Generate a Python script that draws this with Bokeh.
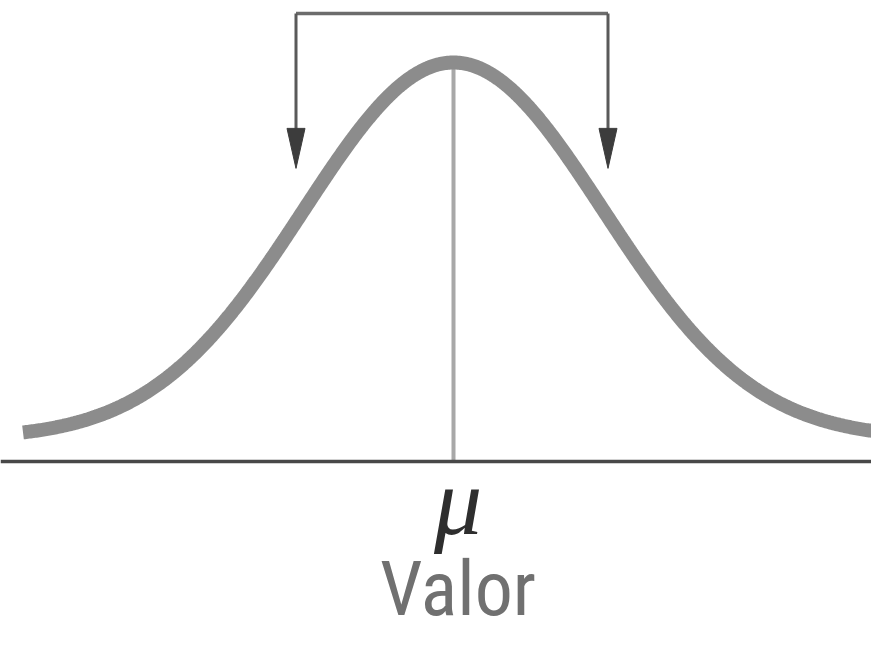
import numpy as np
from bokeh.plotting import figure
from bokeh.models import Range1d, Span, ColumnDataSource
from bokeh.core.properties import value
from bokeh.embed import file_html
from bokeh.resources import INLINE

# ---- data (theoretical normal curve, in units of sigma) ----
mu = 0.0
sigma = 1.0
curve_extent = [-2.87, 2.86]      # where the drawn curve starts / ends (in sigma)
curve_lift = 0.0244               # curve sits slightly above the baseline
bracket_x = [-1.05, 1.03]         # arrows point at roughly mu -/+ sigma
bracket_top = 0.4753
arrow_tip = 0.311
mu_label = ["μ"]
axis_label = ["Valor"]
label_x = [0.03]
mu_label_y = [-0.0424]
axis_label_y = [-0.1348]

# ---- scales (pixels per data unit) ----
W, H = 871, 637
px_x = 150.0
px_y = 942.5
x0_px = 453.0     # canvas x of mu
axis_px = 461.0   # canvas y (from top) of the baseline

x_range = Range1d(-x0_px / px_x, (W - x0_px) / px_x)
y_range = Range1d(-(H - axis_px) / px_y, axis_px / px_y)

p = figure(width=W, height=H, x_range=x_range, y_range=y_range,
           output_backend="svg", toolbar_location=None, min_border=0,
           background_fill_color="white", border_fill_color="white")
p.axis.visible = False
p.grid.visible = False
p.outline_line_color = None

# baseline
p.add_layout(Span(location=0, dimension="width", line_color="#484848", line_width=3.5))

# normal curve
z = np.linspace(curve_extent[0], curve_extent[1], 600)
pdf = np.exp(-0.5 * ((z - mu) / sigma) ** 2) / (sigma * np.sqrt(2 * np.pi))
src = ColumnDataSource(dict(x=z, y=pdf + curve_lift))
peak = 1.0 / (sigma * np.sqrt(2 * np.pi)) + curve_lift

# vertical line at the mean
p.segment(x0=[mu], y0=[0], x1=[mu], y1=[peak], line_color="#a8a8a8", line_width=4)

p.line("x", "y", source=src, line_color="#8c8c8c", line_width=14, line_cap="butt")

# bracket with arrows
head_len = 40 / px_y
head_half = 9 / px_x
p.segment(x0=[bracket_x[0]], y0=[bracket_top], x1=[bracket_x[1]], y1=[bracket_top],
          line_color="#6c6c6c", line_width=3.5)
p.segment(x0=bracket_x, y0=[bracket_top] * 2, x1=bracket_x, y1=[arrow_tip + head_len * 0.5] * 2,
          line_color="#5a5a5a", line_width=3)
xs = [[bx - head_half, bx + head_half, bx] for bx in bracket_x]
ys = [[arrow_tip + head_len, arrow_tip + head_len, arrow_tip] for _ in bracket_x]
p.patches(xs, ys, fill_color="#3c3c3c", line_color="#3c3c3c", line_width=1)

# labels
p.text(x=label_x, y=mu_label_y, text=mu_label, text_font=value("Liberation Serif"),
       text_font_style="italic", text_font_size="96px", text_color="#2e2e2e",
       text_align="center", text_baseline="alphabetic")
p.text(x=label_x, y=axis_label_y, text=axis_label, text_font=value("Roboto Condensed"),
       text_font_size="76px", text_color="#707070",
       text_align="center", text_baseline="alphabetic")

open("out.html", "w").write(file_html(p, INLINE))
